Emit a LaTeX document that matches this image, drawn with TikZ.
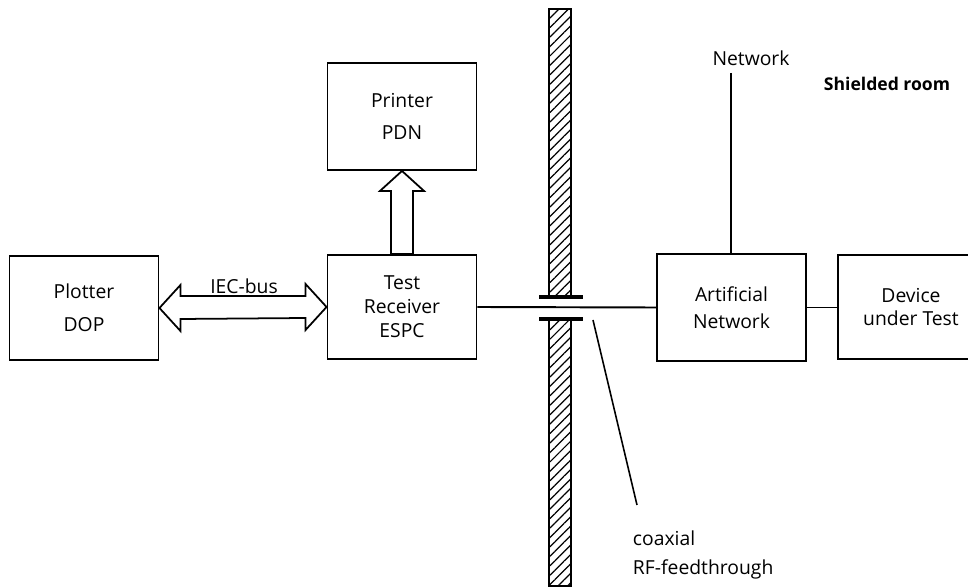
\documentclass[tikz,border=0pt]{standalone}
\usepackage{fontspec}
\setmainfont{Open Sans}
\usetikzlibrary{positioning,calc,patterns.meta}

\begin{document}
\begin{tikzpicture}[x=0.02cm, y=-0.02cm, line width=1.1pt, font=\fontsize{11}{13.6}\selectfont]
        \tikzset{
            block/.style={draw, rectangle, minimum width=2.98cm, minimum height=2.08cm, align=center, inner sep=0pt},
            hollow/.style={draw, fill=white, line width=1pt, line join=miter},
            wall/.style={draw, line width=1pt, pattern={Lines[angle=45, distance=3.8pt, line width=0.7pt]}},
            flange/.style={line width=2pt},
        }
        \clip (0,0) rectangle (968,587);

        % Equipment outside the shielded room
        \node [block] (plotter) at (84,308) {Plotter\\[5pt]DOP};
        \node [block] (receiver) at (402,307) {Test\\Receiver\\ESPC};
        \node [block, minimum height=2.14cm] (printer) at (402,116.5) {Printer\\[5pt]PDN};

        % Equipment inside the shielded room
        \node [block, minimum height=2.14cm] (artnet) at (731.5,307.5) {Artificial\\[1.5pt]Network};
        \node [block, minimum width=2.92cm] (dut) at (911,307) {Device\\under Test};

        % Labels
        \node (netlabel) at (751,58) {Network};
        \coordinate (netend) at (731,73);
        \node [font=\fontsize{10}{13.6}\selectfont\bfseries] (room) at (887,84) {Shielded room};
        \node (iec) at (244,286) {IEC-bus};
        \node [anchor=north west, align=left, inner sep=0pt] (feed) at (632,530) {coaxial\\[3pt]RF-feedthrough};

        % Shielding wall
        \draw [wall] (549,9) rectangle (571,297);
        \draw [wall] (549,319) rectangle (571,586);
        \draw [flange] (539,297) -- (583,297);
        \draw [flange] (539,319) -- (583,319);

        % Connections
        \draw (receiver.east) -- (artnet.west);
        \draw (artnet.east) -- (artnet.east -| dut.west);
        \draw (netend) -- (artnet.north -| netend);
        \draw [line width=0.9pt] (593,320) -- (637,505);

        % IEC-bus double arrow
        \draw [hollow] (plotter.east) -- ++(21,-23) -- ++(0,11)
            -- ($(receiver.west)+(-21,-11)$) -- ++(0,-12) -- (receiver.west)
            -- ++(-21,23) -- ++(0,-12) -- ($(plotter.east)+(21,11)$) -- ++(0,12) -- cycle;

        % Printer arrow
        \draw [hollow] (printer.south) -- ++(22,20) -- ++(-11,0)
            -- ($(receiver.north)+(11,0)$) -- ++(-22,0)
            -- ($(printer.south)+(-11,20)$) -- ++(-11,0) -- cycle;
    \end{tikzpicture}
\end{document}
